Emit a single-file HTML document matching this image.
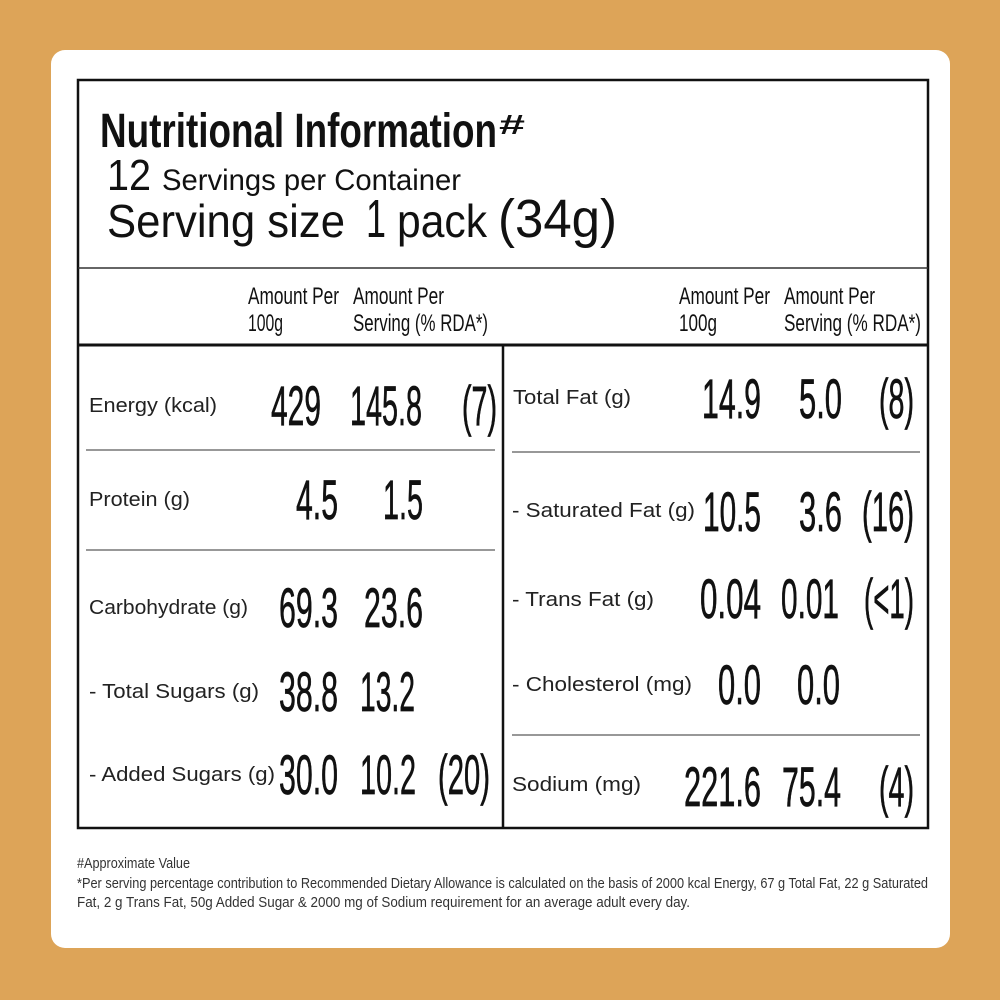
<!DOCTYPE html>
<html><head><meta charset="utf-8"><style>
html,body{margin:0;padding:0;background:#DDA458;}
svg{display:block}
text{font-family:"Liberation Sans",Arial,sans-serif;fill:#111}
.n{font-size:56px;text-anchor:end;stroke:#111;stroke-width:0.7}
.l{font-size:20px;fill:#222}
.h{font-size:24px}
.f{font-size:15px;fill:#333}
</style></head><body>
<svg width="1000" height="1000" viewBox="0 0 1000 1000" xmlns="http://www.w3.org/2000/svg">
<rect x="0" y="0" width="1000" height="1000" fill="#DDA458"/>
<rect x="51" y="50" width="899" height="898" rx="14" fill="#fff"/>
<rect x="78" y="80" width="850" height="748" fill="none" stroke="#111" stroke-width="2.5"/>
<line x1="78" y1="268" x2="928" y2="268" stroke="#333" stroke-width="1.5"/>
<line x1="78" y1="345" x2="928" y2="345" stroke="#111" stroke-width="3"/>
<line x1="503" y1="345" x2="503" y2="828" stroke="#111" stroke-width="2.5"/>
<line x1="86" y1="450" x2="495" y2="450" stroke="#777" stroke-width="1.5"/>
<line x1="86" y1="550" x2="495" y2="550" stroke="#777" stroke-width="1.5"/>
<line x1="512" y1="452" x2="920" y2="452" stroke="#777" stroke-width="1.5"/>
<line x1="512" y1="735" x2="920" y2="735" stroke="#777" stroke-width="1.5"/>

<text x="100" y="147" font-size="48" font-weight="bold" textLength="397" lengthAdjust="spacingAndGlyphs">Nutritional Information</text>
<text x="499" y="134" font-size="28" font-weight="bold" textLength="26" lengthAdjust="spacingAndGlyphs">#</text>
<text x="107" y="190" font-size="44" textLength="44" lengthAdjust="spacingAndGlyphs">12</text>
<text x="162" y="190" font-size="30" textLength="299" lengthAdjust="spacingAndGlyphs">Servings per Container</text>
<text x="107" y="237" font-size="46" textLength="238" lengthAdjust="spacingAndGlyphs">Serving size</text>
<text x="366" y="237" font-size="54" textLength="20" lengthAdjust="spacingAndGlyphs">1</text>
<text x="397" y="237" font-size="46" textLength="90" lengthAdjust="spacingAndGlyphs">pack</text>
<text x="498" y="237" font-size="54" textLength="119" lengthAdjust="spacingAndGlyphs">(34g)</text>

<text class="h" x="248" y="304" textLength="91" lengthAdjust="spacingAndGlyphs">Amount Per</text>
<text class="h" x="248" y="331" textLength="35" lengthAdjust="spacingAndGlyphs">100g</text>
<text class="h" x="353" y="304" textLength="91" lengthAdjust="spacingAndGlyphs">Amount Per</text>
<text class="h" x="353" y="331" textLength="135" lengthAdjust="spacingAndGlyphs">Serving (% RDA*)</text>
<text class="h" x="679" y="304" textLength="91" lengthAdjust="spacingAndGlyphs">Amount Per</text>
<text class="h" x="679" y="331" textLength="38" lengthAdjust="spacingAndGlyphs">100g</text>
<text class="h" x="784" y="304" textLength="91" lengthAdjust="spacingAndGlyphs">Amount Per</text>
<text class="h" x="784" y="331" textLength="137" lengthAdjust="spacingAndGlyphs">Serving (% RDA*)</text>

<text class="l" x="89" y="412" textLength="128" lengthAdjust="spacingAndGlyphs">Energy (kcal)</text>
<text class="l" x="89" y="506" textLength="101" lengthAdjust="spacingAndGlyphs">Protein (g)</text>
<text class="l" x="89" y="614" textLength="159" lengthAdjust="spacingAndGlyphs">Carbohydrate (g)</text>
<text class="l" x="89" y="698" textLength="170" lengthAdjust="spacingAndGlyphs">- Total Sugars (g)</text>
<text class="l" x="89" y="781" textLength="186" lengthAdjust="spacingAndGlyphs">- Added Sugars (g)</text>
<text class="l" x="513" y="404" textLength="118" lengthAdjust="spacingAndGlyphs">Total Fat (g)</text>
<text class="l" x="512" y="517" textLength="183" lengthAdjust="spacingAndGlyphs">- Saturated Fat (g)</text>
<text class="l" x="512" y="606" textLength="142" lengthAdjust="spacingAndGlyphs">- Trans Fat (g)</text>
<text class="l" x="512" y="691" textLength="180" lengthAdjust="spacingAndGlyphs">- Cholesterol (mg)</text>
<text class="l" x="512" y="791" textLength="129" lengthAdjust="spacingAndGlyphs">Sodium (mg)</text>

<text class="n" x="321" y="425" textLength="50" lengthAdjust="spacingAndGlyphs">429</text>
<text class="n" x="422" y="425" textLength="72" lengthAdjust="spacingAndGlyphs">145.8</text>
<text class="n" x="497" y="425" textLength="35" lengthAdjust="spacingAndGlyphs">(7)</text>
<text class="n" x="338" y="519" textLength="42" lengthAdjust="spacingAndGlyphs">4.5</text>
<text class="n" x="423" y="519" textLength="40" lengthAdjust="spacingAndGlyphs">1.5</text>
<text class="n" x="338" y="627" textLength="59" lengthAdjust="spacingAndGlyphs">69.3</text>
<text class="n" x="423" y="627" textLength="59" lengthAdjust="spacingAndGlyphs">23.6</text>
<text class="n" x="338" y="711" textLength="59" lengthAdjust="spacingAndGlyphs">38.8</text>
<text class="n" x="415" y="711" textLength="55" lengthAdjust="spacingAndGlyphs">13.2</text>
<text class="n" x="338" y="794" textLength="59" lengthAdjust="spacingAndGlyphs">30.0</text>
<text class="n" x="416" y="794" textLength="56" lengthAdjust="spacingAndGlyphs">10.2</text>
<text class="n" x="490" y="794" textLength="52" lengthAdjust="spacingAndGlyphs">(20)</text>
<text class="n" x="761" y="418" textLength="59" lengthAdjust="spacingAndGlyphs">14.9</text>
<text class="n" x="842" y="418" textLength="43" lengthAdjust="spacingAndGlyphs">5.0</text>
<text class="n" x="914" y="418" textLength="35" lengthAdjust="spacingAndGlyphs">(8)</text>
<text class="n" x="761" y="531" textLength="58" lengthAdjust="spacingAndGlyphs">10.5</text>
<text class="n" x="842" y="531" textLength="43" lengthAdjust="spacingAndGlyphs">3.6</text>
<text class="n" x="914" y="531" textLength="52" lengthAdjust="spacingAndGlyphs">(16)</text>
<text class="n" x="761" y="618" textLength="61" lengthAdjust="spacingAndGlyphs">0.04</text>
<text class="n" x="839" y="618" textLength="58" lengthAdjust="spacingAndGlyphs">0.01</text>
<text class="n" x="914" y="618" textLength="50" lengthAdjust="spacingAndGlyphs">(&lt;1)</text>
<text class="n" x="761" y="704" textLength="43" lengthAdjust="spacingAndGlyphs">0.0</text>
<text class="n" x="840" y="704" textLength="43" lengthAdjust="spacingAndGlyphs">0.0</text>
<text class="n" x="761" y="806" textLength="77" lengthAdjust="spacingAndGlyphs">221.6</text>
<text class="n" x="841" y="806" textLength="59" lengthAdjust="spacingAndGlyphs">75.4</text>
<text class="n" x="914" y="806" textLength="35" lengthAdjust="spacingAndGlyphs">(4)</text>

<text class="f" x="77" y="868" textLength="113" lengthAdjust="spacingAndGlyphs">#Approximate Value</text>
<text class="f" x="77" y="888" textLength="851" lengthAdjust="spacingAndGlyphs">*Per serving percentage contribution to Recommended Dietary Allowance is calculated on the basis of 2000 kcal Energy, 67 g Total Fat, 22 g Saturated</text>
<text class="f" x="77" y="907" textLength="613" lengthAdjust="spacingAndGlyphs">Fat, 2 g Trans Fat, 50g Added Sugar &amp; 2000 mg of Sodium requirement for an average adult every day.</text>
</svg>
</body></html>
